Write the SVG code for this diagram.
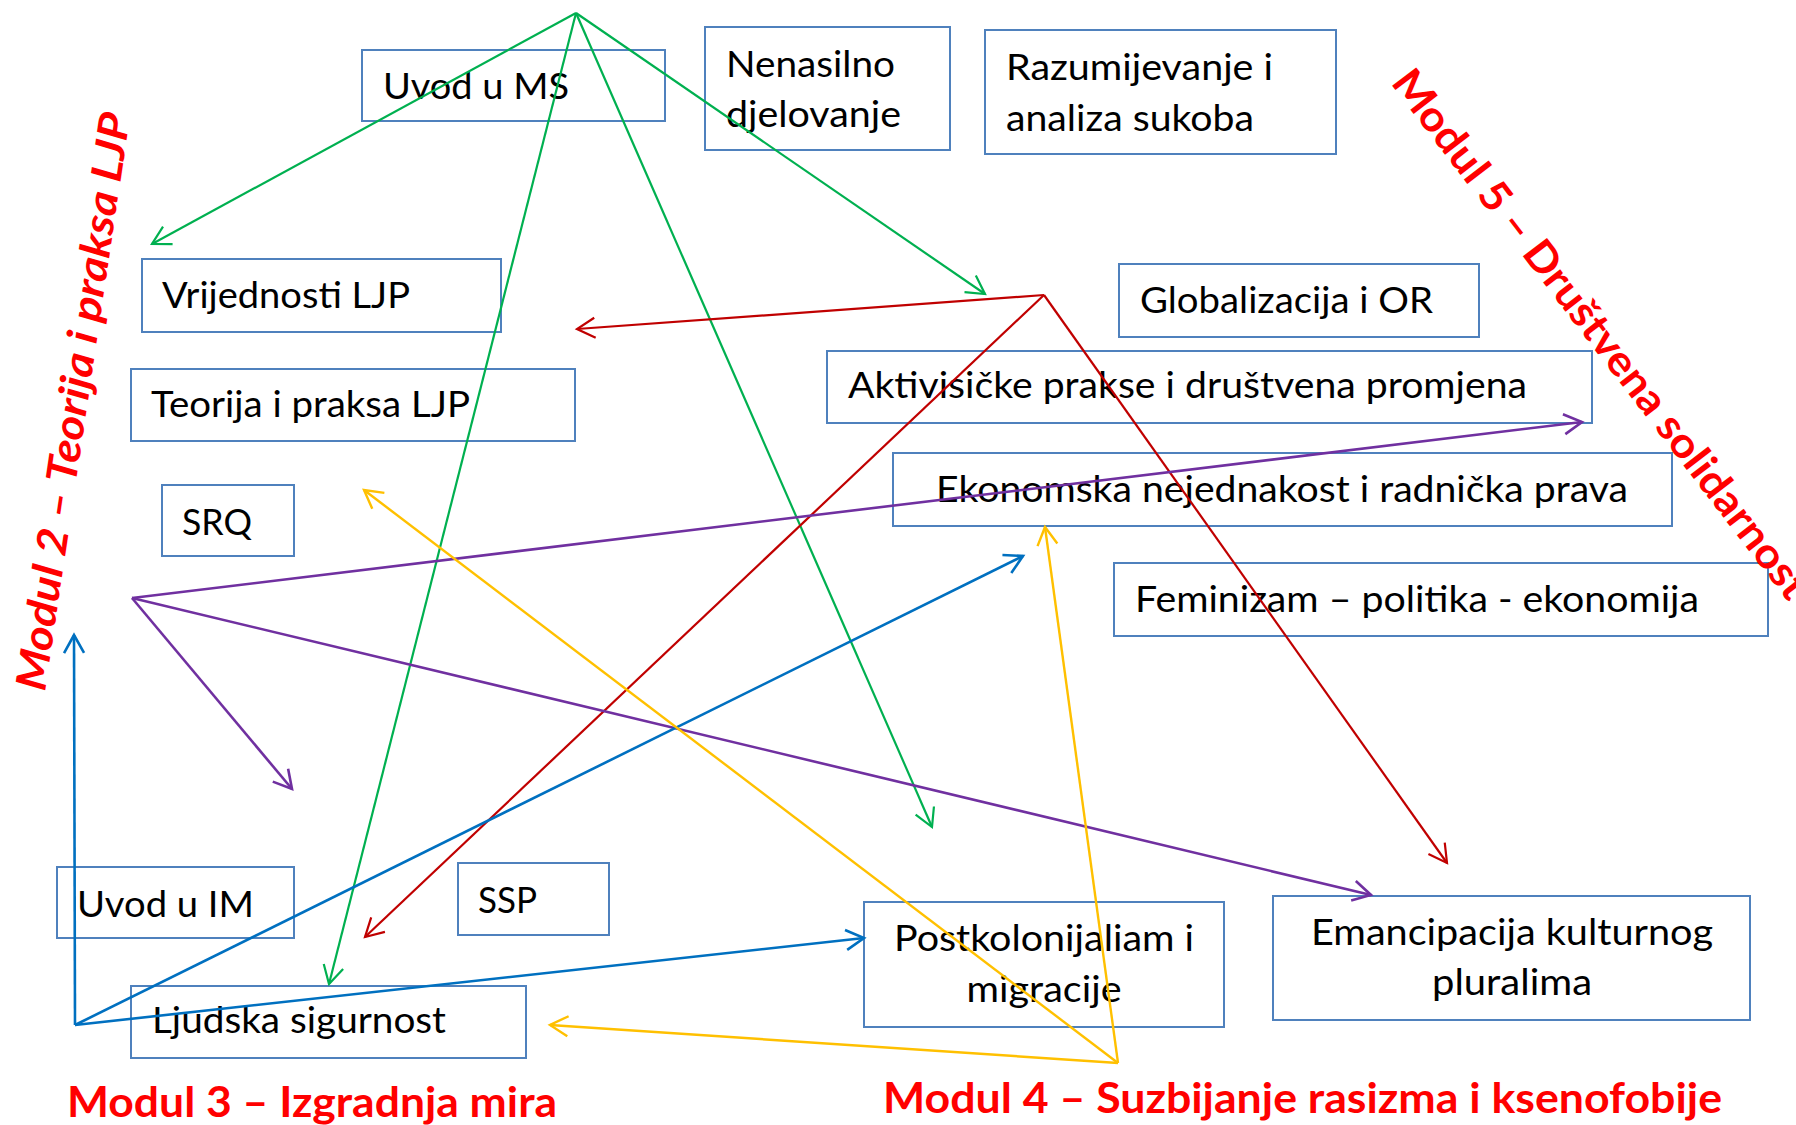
<svg xmlns="http://www.w3.org/2000/svg" width="1796" height="1125" viewBox="0 0 1796 1125">
<style>
.box{fill:#FFFFFF;stroke:#4F81BD;stroke-width:2}
.lbl{font-family:Lato,"Open Sans","Liberation Sans",sans-serif;font-size:36px;fill:#000000}
.mod{font-family:Lato,"Open Sans","Liberation Sans",sans-serif;font-size:42px;font-weight:bold;fill:#FF0000}
.c{fill:none}
.g{stroke:#00B050;stroke-width:2.2}
.r{stroke:#C00000;stroke-width:2.2}
.p{stroke:#7030A0;stroke-width:2.6}
.b{stroke:#0070C0;stroke-width:2.6}
.y{stroke:#FFC000;stroke-width:2.4}
</style>
<defs>
<marker id="ag" markerUnits="userSpaceOnUse" markerWidth="40" markerHeight="40" viewBox="-30 -20 40 40" refX="0" refY="0" orient="auto"><path d="M-18,-10 L0,0 L-18,10" fill="none" stroke="#00B050" stroke-width="2.2"/></marker>
<marker id="ar" markerUnits="userSpaceOnUse" markerWidth="40" markerHeight="40" viewBox="-30 -20 40 40" refX="0" refY="0" orient="auto"><path d="M-18,-10 L0,0 L-18,10" fill="none" stroke="#C00000" stroke-width="2.2"/></marker>
<marker id="ap" markerUnits="userSpaceOnUse" markerWidth="40" markerHeight="40" viewBox="-30 -20 40 40" refX="0" refY="0" orient="auto"><path d="M-18,-10 L0,0 L-18,10" fill="none" stroke="#7030A0" stroke-width="2.6"/></marker>
<marker id="ab" markerUnits="userSpaceOnUse" markerWidth="40" markerHeight="40" viewBox="-30 -20 40 40" refX="0" refY="0" orient="auto"><path d="M-18,-10 L0,0 L-18,10" fill="none" stroke="#0070C0" stroke-width="2.6"/></marker>
<marker id="ay" markerUnits="userSpaceOnUse" markerWidth="40" markerHeight="40" viewBox="-30 -20 40 40" refX="0" refY="0" orient="auto"><path d="M-18,-10 L0,0 L-18,10" fill="none" stroke="#FFC000" stroke-width="2.4"/></marker>
</defs>
<rect x="0" y="0" width="1796" height="1125" fill="#FFFFFF"/>

<g id="n-uvod-ms"><rect class="box" x="362" y="50" width="303" height="71"/><text class="lbl" x="383" y="99" textLength="186" lengthAdjust="spacingAndGlyphs">Uvod u MS</text></g>
<g id="n-nenasilno"><rect class="box" x="705" y="27" width="245" height="123"/><text class="lbl" x="726" y="77" textLength="169" lengthAdjust="spacingAndGlyphs">Nenasilno</text><text class="lbl" x="726" y="127" textLength="175" lengthAdjust="spacingAndGlyphs">djelovanje</text></g>
<g id="n-razumijevanje"><rect class="box" x="985" y="30" width="351" height="124"/><text class="lbl" x="1006" y="80" textLength="267" lengthAdjust="spacingAndGlyphs">Razumijevanje i</text><text class="lbl" x="1006" y="131" textLength="248" lengthAdjust="spacingAndGlyphs">analiza sukoba</text></g>
<g id="n-vrijednosti"><rect class="box" x="142" y="259" width="359" height="73"/><text class="lbl" x="162" y="308" textLength="248" lengthAdjust="spacingAndGlyphs">Vrijednosti LJP</text></g>
<g id="n-globalizacija"><rect class="box" x="1119" y="264" width="360" height="73"/><text class="lbl" x="1140" y="313" textLength="293" lengthAdjust="spacingAndGlyphs">Globalizacija i OR</text></g>
<g id="n-teorija"><rect class="box" x="131" y="369" width="444" height="72"/><text class="lbl" x="151" y="417" textLength="319" lengthAdjust="spacingAndGlyphs">Teorija i praksa LJP</text></g>
<g id="n-aktivisicke"><rect class="box" x="827" y="351" width="765" height="72"/><text class="lbl" x="848" y="398" textLength="679" lengthAdjust="spacingAndGlyphs">Aktivisičke prakse i društvena promjena</text></g>
<g id="n-srq"><rect class="box" x="162" y="485" width="132" height="71"/><text class="lbl" x="182" y="535" textLength="70" lengthAdjust="spacingAndGlyphs">SRQ</text></g>
<g id="n-ekonomska"><rect class="box" x="893" y="453" width="779" height="73"/><text class="lbl" x="936" y="502" textLength="692" lengthAdjust="spacingAndGlyphs">Ekonomska nejednakost i radnička prava</text></g>
<g id="n-feminizam"><rect class="box" x="1114" y="563" width="654" height="73"/><text class="lbl" x="1135" y="612" textLength="564" lengthAdjust="spacingAndGlyphs">Feminizam – politika - ekonomija</text></g>
<g id="n-uvod-im"><rect class="box" x="57" y="867" width="237" height="71"/><text class="lbl" x="77" y="917" textLength="177" lengthAdjust="spacingAndGlyphs">Uvod u IM</text></g>
<g id="n-ssp"><rect class="box" x="458" y="863" width="151" height="72"/><text class="lbl" x="478" y="913" textLength="59" lengthAdjust="spacingAndGlyphs">SSP</text></g>
<g id="n-ljudska"><rect class="box" x="131" y="986" width="395" height="72"/><text class="lbl" x="152" y="1033" textLength="294" lengthAdjust="spacingAndGlyphs">Ljudska sigurnost</text></g>
<g id="n-postkolonijaliam"><rect class="box" x="864" y="902" width="360" height="125"/><text class="lbl" x="1044" y="951" text-anchor="middle" textLength="300" lengthAdjust="spacingAndGlyphs">Postkolonijaliam i</text><text class="lbl" x="1044" y="1002" text-anchor="middle" textLength="155" lengthAdjust="spacingAndGlyphs">migracije</text></g>
<g id="n-emancipacija"><rect class="box" x="1273" y="896" width="477" height="124"/><text class="lbl" x="1512" y="945" text-anchor="middle" textLength="402" lengthAdjust="spacingAndGlyphs">Emancipacija kulturnog</text><text class="lbl" x="1512" y="995" text-anchor="middle" textLength="160" lengthAdjust="spacingAndGlyphs">pluralima</text></g>

<g id="connectors">
<line class="c g" x1="576" y1="13" x2="152" y2="244" marker-end="url(#ag)"/>
<line class="c g" x1="576" y1="13" x2="329" y2="984" marker-end="url(#ag)"/>
<line class="c g" x1="576" y1="13" x2="932" y2="827" marker-end="url(#ag)"/>
<line class="c g" x1="576" y1="13" x2="985" y2="294" marker-end="url(#ag)"/>
<line class="c r" x1="1044" y1="295" x2="577" y2="329" marker-end="url(#ar)"/>
<line class="c r" x1="1044" y1="295" x2="365" y2="937" marker-end="url(#ar)"/>
<line class="c r" x1="1044" y1="295" x2="1447" y2="863" marker-end="url(#ar)"/>
<line class="c p" x1="132" y1="598" x2="1582" y2="422" marker-end="url(#ap)"/>
<line class="c p" x1="132" y1="598" x2="292" y2="789" marker-end="url(#ap)"/>
<line class="c p" x1="132" y1="598" x2="1371" y2="895" marker-end="url(#ap)"/>
<line class="c b" x1="75" y1="1025" x2="74" y2="635" marker-end="url(#ab)"/>
<line class="c b" x1="75" y1="1025" x2="1023" y2="556" marker-end="url(#ab)"/>
<line class="c b" x1="75" y1="1025" x2="864" y2="938" marker-end="url(#ab)"/>
<line class="c y" x1="1118" y1="1063" x2="364" y2="490" marker-end="url(#ay)"/>
<line class="c y" x1="1118" y1="1063" x2="1045" y2="527" marker-end="url(#ay)"/>
<line class="c y" x1="1118" y1="1063" x2="550" y2="1025" marker-end="url(#ay)"/>
</g>

<g id="module-labels">
<text class="mod" x="67" y="1117" textLength="490" lengthAdjust="spacingAndGlyphs">Modul 3 – Izgradnja mira</text>
<text class="mod" x="883" y="1113" textLength="839" lengthAdjust="spacingAndGlyphs">Modul 4 – Suzbijanje rasizma i ksenofobije</text>
<text class="mod" transform="translate(45,692) rotate(-81.6)" font-style="italic" font-size="46" textLength="583" lengthAdjust="spacingAndGlyphs">Modul 2 – Teorija i praksa LJP</text>
<text class="mod" transform="translate(1390,83) rotate(52.5)" font-size="46" textLength="655" lengthAdjust="spacingAndGlyphs">Modul 5 – Društvena solidarnost</text>
</g>
</svg>
